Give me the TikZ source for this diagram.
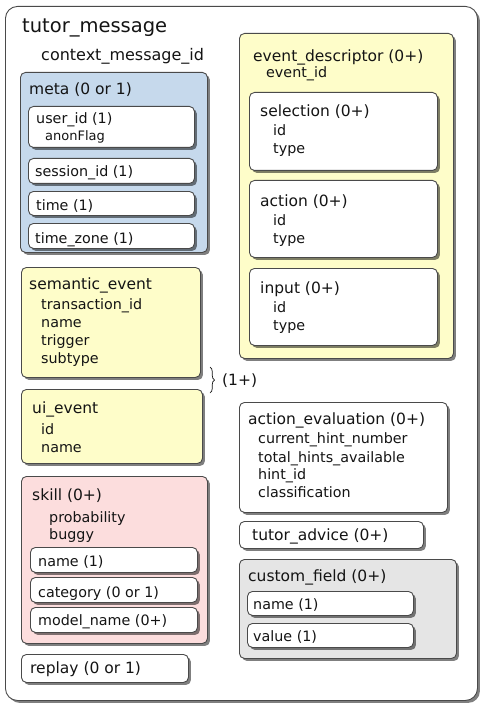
\documentclass[tikz,border=0pt]{standalone}
\usepackage{fontspec}
\setmainfont{DejaVu Sans}
\usetikzlibrary{shadows,decorations.pathreplacing}
\definecolor{bordc}{HTML}{4A4A4A}
\definecolor{metablue}{HTML}{C6D9EC}
\definecolor{evyellow}{HTML}{FEFDC9}
\definecolor{skillpink}{HTML}{FCDDDD}
\definecolor{cfgray}{HTML}{E5E5E5}
\definecolor{txtc}{HTML}{141414}
\tikzset{
  box/.style={draw=bordc, line width=0.9pt, rounded corners=5pt, anchor=north west,
    inner sep=0pt, fill=white,
    drop shadow={shadow xshift=2.5pt, shadow yshift=-2.5pt, opacity=0.5, fill=black}},
  outerbox/.style={box, rounded corners=12pt},
  bluebox/.style={box, fill=metablue},
  yellowbox/.style={box, fill=evyellow},
  pinkbox/.style={box, fill=skillpink},
  graybox/.style={box, fill=cfgray},
  txt/.style={anchor=base west, inner sep=0pt, text=txtc},
  maintitle/.style={txt, font=\fontsize{19.5}{22}\selectfont},
  subtitle/.style={txt, font=\fontsize{16}{19}\selectfont},
  ttl/.style={txt, font=\fontsize{15.5}{18}\selectfont},
  itm/.style={txt, font=\fontsize{14.3}{17}\selectfont},
  small/.style={txt, font=\fontsize{13}{15}\selectfont},
  bracestyle/.style={draw=txtc, line width=0.7pt, decorate, decoration={brace, amplitude=4.5pt}},
}
\newcommand\mkbox[6]{\node[#2, minimum width={#5-#3}, minimum height={#6-#4}] (#1) at (#3,#4) {};}
\begin{document}
\begin{tikzpicture}[x=1pt,y=-1pt]
\useasboundingbox (0,0) rectangle (491,714);
% outer
\mkbox{outer}{outerbox}{5}{6}{477}{700}
\node[maintitle] (tmT) at (22,33) {tutor\_message};
\node[subtitle] (cmT) at (41,61) {context\_message\_id};
% meta
\mkbox{meta}{bluebox}{20}{72}{207}{252}
\node[ttl] (metaT) at (29,95) {meta (0 or 1)};
\mkbox{uid}{box}{28}{106}{194}{147}
\node[itm] (uidT) at (36,124) {user\_id (1)};
\node[small] (anonT) at (45,141) {anonFlag};
\mkbox{sess}{box}{28}{158}{194}{183}
\node[itm] (sessT) at (35,177) {session\_id (1)};
\mkbox{time}{box}{28}{191}{194}{215}
\node[itm] (timeT) at (36,210) {time (1)};
\mkbox{tz}{box}{28}{223}{194}{248}
\node[itm] (tzT) at (35,243) {time\_zone (1)};
% semantic event
\mkbox{sem}{yellowbox}{21}{267}{200}{377}
\node[ttl] (semT) at (29,289) {semantic\_event};
\node[itm] (semA) at (41,309) {transaction\_id};
\node[itm] (semB) at (41,327) {name};
\node[itm] (semC) at (41,345) {trigger};
\node[itm] (semD) at (41,363) {subtype};
% brace
\coordinate (br1) at (210,367);
\coordinate (br2) at (210,393);
\draw[bracestyle] (br1) -- (br2);
\node[ttl] (multT) at (222,385) {(1+)};
% ui event
\mkbox{ui}{yellowbox}{21}{389}{202}{463}
\node[ttl] (uiT) at (32,413) {ui\_event};
\node[itm] (uiA) at (41,434) {id};
\node[itm] (uiB) at (41,452) {name};
% skill
\mkbox{skill}{pinkbox}{21}{476}{207}{643}
\node[ttl] (skT) at (32,500) {skill (0+)};
\node[itm] (skA) at (49,522) {probability};
\node[itm] (skB) at (49,539) {buggy};
\mkbox{skn}{box}{30}{547}{197}{572}
\node[itm] (sknT) at (38,566) {name (1)};
\mkbox{skc}{box}{30}{577}{197}{602}
\node[itm] (skcT) at (38,597) {category (0 or 1)};
\mkbox{skm}{box}{30}{607}{197}{632}
\node[itm] (skmT) at (38,625) {model\_name (0+)};
% replay
\mkbox{replay}{box}{21}{654}{188}{682}
\node[ttl] (repT) at (30,673) {replay (0 or 1)};
% event descriptor
\mkbox{evd}{yellowbox}{239}{33}{453}{358}
\node[ttl] (evdT) at (253,62) {event\_descriptor (0+)};
\node[itm] (evdA) at (266,78) {event\_id};
\mkbox{sel}{box}{249}{92}{437}{170}
\node[ttl] (selT) at (260,117) {selection (0+)};
\node[itm] (selA) at (273,136) {id};
\node[itm] (selB) at (273,154) {type};
\mkbox{act}{box}{249}{180}{437}{257}
\node[ttl] (actT) at (260,206) {action (0+)};
\node[itm] (actA) at (273,225) {id};
\node[itm] (actB) at (273,243) {type};
\mkbox{inp}{box}{249}{268}{437}{345}
\node[ttl] (inpT) at (260,293) {input (0+)};
\node[itm] (inpA) at (273,312) {id};
\node[itm] (inpB) at (273,330) {type};
% action evaluation
\mkbox{aev}{box}{239}{402}{447}{512}
\node[ttl] (aevT) at (248,424) {action\_evaluation (0+)};
\node[itm] (aevA) at (258,443) {current\_hint\_number};
\node[itm] (aevB) at (258,462) {total\_hints\_available};
\node[itm] (aevC) at (258,479) {hint\_id};
\node[itm] (aevD) at (258,497) {classification};
% tutor advice
\mkbox{adv}{box}{239}{521}{423}{548}
\node[ttl] (advT) at (252,540) {tutor\_advice (0+)};
% custom field
\mkbox{cf}{graybox}{239}{559}{456}{658}
\node[ttl] (cfT) at (248,581) {custom\_field (0+)};
\mkbox{cfn}{box}{247}{591}{413}{615}
\node[itm] (cfnT) at (253,609) {name (1)};
\mkbox{cfv}{box}{247}{623}{413}{647}
\node[itm] (cfvT) at (253,641) {value (1)};
\end{tikzpicture}
\end{document}
